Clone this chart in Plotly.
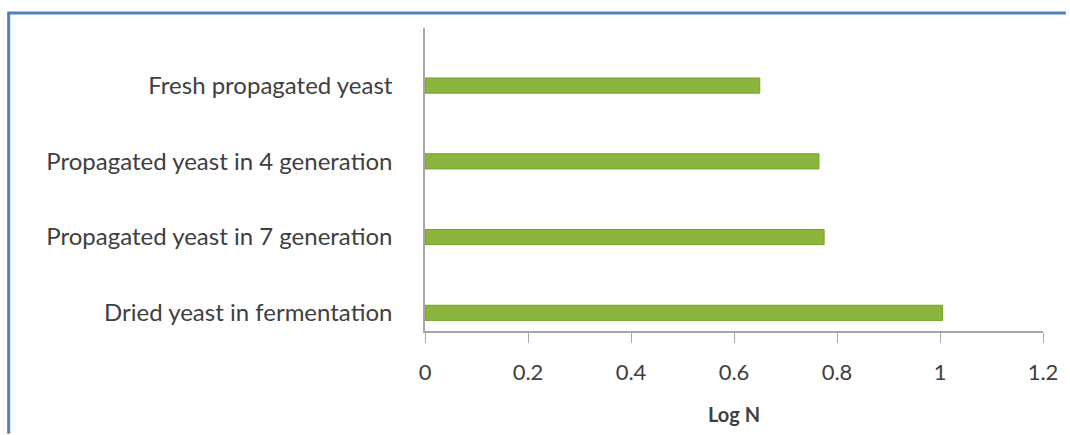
import plotly.graph_objects as go

categories = [
    "Fresh propagated yeast",
    "Propagated yeast in 4 generation",
    "Propagated yeast in 7 generation",
    "Dried yeast in fermentation",
]
values = [0.65, 0.765, 0.775, 1.005]
x_ticks = [0, 0.2, 0.4, 0.6, 0.8, 1.0, 1.2]
x_tick_labels = ["0", "0.2", "0.4", "0.6", "0.8", "1", "1.2"]
x_title = "Log N"

W, H = 1070, 435
ML, MR, MT, MB = 425, 23, 28, 103
pw, ph = W - ML - MR, H - MT - MB

def px_x(p):
    return (p - ML) / pw

def px_y(p):
    return (H - MB - p) / ph

fig = go.Figure()
fig.add_trace(go.Bar(
    y=categories,
    x=values,
    orientation="h",
    width=0.2,
    marker=dict(color="#8BB53D", line=dict(color="#76A02D", width=1)),
))

fig.update_layout(
    width=W, height=H,
    margin=dict(l=ML, r=MR, t=MT, b=MB),
    paper_bgcolor="white",
    plot_bgcolor="white",
    showlegend=False,
    font=dict(family="Lato, Open Sans, sans-serif", color="#404040"),
    xaxis=dict(
        range=[0, 1.2],
        tickvals=x_ticks,
        ticktext=x_tick_labels,
        showgrid=False,
        zeroline=False,
        showline=True,
        linecolor="#A6A6A6",
        linewidth=1.5,
        ticks="outside",
        ticklen=10,
        tickcolor="#A6A6A6",
        tickfont=dict(size=22, color="#404040"),
        ticklabelstandoff=11,
        title=dict(text="<b>" + x_title + "</b>", font=dict(size=20, color="#404040"), standoff=24),
    ),
    yaxis=dict(
        type="category",
        categoryorder="array",
        categoryarray=categories,
        range=[3.24, -0.76],
        showgrid=False,
        zeroline=False,
        showline=True,
        linecolor="#A6A6A6",
        linewidth=1.5,
        ticks="",
        tickfont=dict(size=24, color="#404040"),
        ticklabelstandoff=26,
    ),
    shapes=[
        dict(type="line", xref="paper", yref="paper",
             x0=px_x(5), x1=px_x(W), y0=px_y(13), y1=px_y(13),
             line=dict(color="#4F81BD", width=3)),
        dict(type="line", xref="paper", yref="paper",
             x0=px_x(6), x1=px_x(6), y0=px_y(12), y1=px_y(H),
             line=dict(color="#4F81BD", width=3)),
    ],
)

fig.write_html("out.html", config={"displayModeBar": False},
               post_script="document.body.style.margin='0';")
